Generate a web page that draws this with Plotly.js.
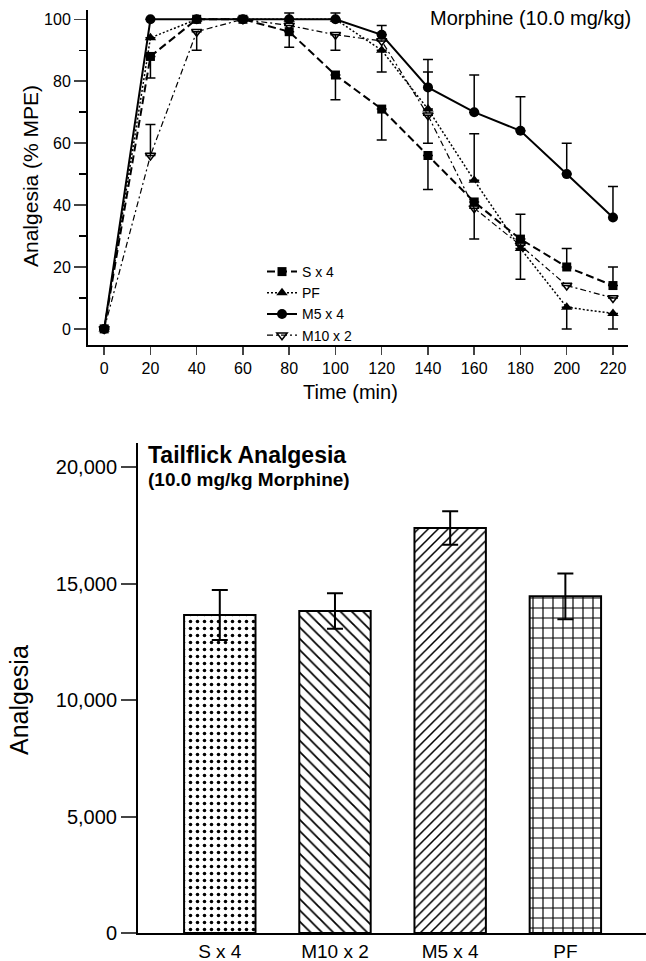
<!DOCTYPE html>
<html>
<head>
<meta charset="utf-8">
<script src="https://cdn.plot.ly/plotly-3.0.1.min.js"></script>
<style>html,body{margin:0;padding:0;background:#fff;}#chart{width:646px;height:961px;}</style>
</head>
<body>
<div id="chart"></div>
<script>
// ---- Top panel data: time course (% MPE) ----
var timeMin = [0, 20, 40, 60, 80, 100, 120, 140, 160, 180, 200, 220];
var sx4 = [0, 88, 100, 100, 96, 82, 71, 56, 41, 29, 20, 14];
var sx4ErrPlus = [null, null, null, null, null, null, null, null, null, 8, 6, 6];
var sx4ErrMinus = [null, 7, null, null, 5, 8, 10, 11, null, null, null, null];
var pf = [0, 94, 100, 100, 100, 100, 90, 71, 48, 26, 7, 5];
var pfErrPlus = [null, null, null, null, 2, 2, null, 12, 15, null, null, null];
var pfErrMinus = [null, null, null, null, null, null, 7, null, null, 10, 7, 5];
var m5x4 = [0, 100, 100, 100, 100, 100, 95, 78, 70, 64, 50, 36];
var m5x4ErrPlus = [null, null, null, null, null, null, 3, 9, 12, 11, 10, 10];
var m5x4ErrMinus = [null, null, null, null, null, null, 0, 0, 0, 0, 0, 0];
var m10x2 = [0, 56, 96, 100, 98, 95, 93, 69, 39, 27, 14, 10];
var m10x2ErrPlus = [null, 10, null, null, null, null, null, null, null, null, null, null];
var m10x2ErrMinus = [null, 0, 6, null, null, 5, null, 9, 10, null, null, null];
var seriesNames = ['S x 4', 'PF', 'M5 x 4', 'M10 x 2'];
var topXTicks = [0, 20, 40, 60, 80, 100, 120, 140, 160, 180, 200, 220];

// ---- Bottom panel data: tailflick analgesia ----
var groups = ['S x 4', 'M10 x 2', 'M5 x 4', 'PF'];
var analgesia = [13650, 13820, 17380, 14450];
var analgesiaErr = [1070, 760, 720, 980];
var bottomYTicks = [0, 5000, 10000, 15000, 20000];

var FONT = 'Liberation Sans, Arial, Helvetica, sans-serif';
var W = 646, H = 961;
function px(x) { return x / W; }
function py(y) { return 1 - y / H; }

function errY(plus, minus) {
  return {type: 'data', symmetric: false, array: plus, arrayminus: minus,
          color: '#000', thickness: 1.5, width: 5};
}

var traces = [
  {x: timeMin, y: sx4, name: seriesNames[0], type: 'scatter', mode: 'lines+markers',
   line: {color: '#000', width: 2, dash: '8px,4px'},
   marker: {symbol: 'square', size: 9, color: '#000'},
   error_y: errY(sx4ErrPlus, sx4ErrMinus), xaxis: 'x', yaxis: 'y'},
  {x: timeMin, y: pf, name: seriesNames[1], type: 'scatter', mode: 'lines+markers',
   line: {color: '#000', width: 1.5, dash: '2px,2px'},
   marker: {symbol: 'triangle-up', size: 10, color: '#000'},
   error_y: errY(pfErrPlus, pfErrMinus), xaxis: 'x', yaxis: 'y'},
  {x: timeMin, y: m5x4, name: seriesNames[2], type: 'scatter', mode: 'lines+markers',
   line: {color: '#000', width: 2},
   marker: {symbol: 'circle', size: 10, color: '#000'},
   error_y: errY(m5x4ErrPlus, m5x4ErrMinus), xaxis: 'x', yaxis: 'y'},
  {x: timeMin, y: m10x2, name: seriesNames[3], type: 'scatter', mode: 'lines+markers',
   line: {color: '#000', width: 1.2, dash: '6px,3px,2px,3px'},
   marker: {symbol: 'triangle-down-open', size: 9, color: '#000', line: {width: 1.5, color: '#000'}},
   error_y: errY(m10x2ErrPlus, m10x2ErrMinus), xaxis: 'x', yaxis: 'y'},
  {x: groups, y: analgesia, type: 'bar', showlegend: false, width: 0.62,
   marker: {color: '#fff', line: {color: '#000', width: 2},
            pattern: {shape: ['.', '\\', '/', '+'], size: [7, 8, 7, 10],
                      solidity: [0.2, 0.22, 0.22, 0.22], fgcolor: '#000', bgcolor: '#fff', fillmode: 'replace'}},
   error_y: {type: 'data', array: analgesiaErr, color: '#000', thickness: 2, width: 8},
   xaxis: 'x2', yaxis: 'y2'}
];

var layout = {
  width: W, height: H,
  margin: {l: 0, r: 0, t: 0, b: 0},
  paper_bgcolor: '#fff', plot_bgcolor: 'rgba(0,0,0,0)',
  font: {family: FONT, color: '#000', size: 16},
  showlegend: true,
  legend: {x: px(262), y: py(256), xanchor: 'left', yanchor: 'top',
           font: {family: FONT, size: 14, color: '#000'}, itemwidth: 30,
           bgcolor: 'rgba(0,0,0,0)', tracegroupgap: 0},
  xaxis: {domain: [px(88), px(628)], anchor: 'y', range: [-7, 226.5],
          tickmode: 'array', tickvals: topXTicks, ticks: 'outside', ticklen: 8, tickwidth: 1.5,
          showline: true, linewidth: 2, linecolor: '#000', showgrid: false, zeroline: false,
          tickfont: {family: FONT, size: 16}},
  yaxis: {domain: [py(345), py(10)], anchor: 'x', range: [-5.2, 103],
          tickmode: 'linear', tick0: 0, dtick: 20, ticks: 'outside', ticklen: 12, tickwidth: 1.5,
          minor: {dtick: 10, tick0: 0, ticks: 'outside', ticklen: 7, tickwidth: 1.5, tickcolor: '#000'},
          showline: true, linewidth: 2, linecolor: '#000', showgrid: false, zeroline: false,
          tickfont: {family: FONT, size: 16}},
  xaxis2: {domain: [px(138), 1], anchor: 'y2', range: [-0.71, 3.7], type: 'category',
           ticks: '', showline: true, linewidth: 2, linecolor: '#000', showgrid: false, zeroline: false,
           tickfont: {family: FONT, size: 19}},
  yaxis2: {domain: [py(933), py(443)], anchor: 'x2', range: [0, 21030],
           tickmode: 'array', tickvals: bottomYTicks, tickformat: ',', ticks: 'outside', ticklen: 15, tickwidth: 2,
           showline: true, linewidth: 2, linecolor: '#000', showgrid: false, zeroline: false,
           tickfont: {family: FONT, size: 20}},
  annotations: [
    {text: 'Morphine (10.0 mg/kg)', xref: 'paper', yref: 'paper', x: px(633), y: py(18),
     xanchor: 'right', yanchor: 'middle', showarrow: false, font: {family: FONT, size: 20}},
    {text: 'Time (min)', xref: 'paper', yref: 'paper', x: px(350), y: py(392),
     xanchor: 'center', yanchor: 'middle', showarrow: false, font: {family: FONT, size: 20}},
    {text: 'Analgesia (% MPE)', xref: 'paper', yref: 'paper', x: px(30), y: py(176),
     xanchor: 'center', yanchor: 'middle', textangle: -90, showarrow: false, font: {family: FONT, size: 21}},
    {text: '<b>Tailflick Analgesia</b>', xref: 'paper', yref: 'paper', x: px(146), y: py(455),
     xanchor: 'left', yanchor: 'middle', showarrow: false, font: {family: FONT, size: 23}},
    {text: '<b>(10.0 mg/kg Morphine)</b>', xref: 'paper', yref: 'paper', x: px(146), y: py(480),
     xanchor: 'left', yanchor: 'middle', showarrow: false, font: {family: FONT, size: 19}},
    {text: 'Analgesia', xref: 'paper', yref: 'paper', x: px(19), y: py(700),
     xanchor: 'center', yanchor: 'middle', textangle: -90, showarrow: false, font: {family: FONT, size: 25}}
  ]
};

Plotly.newPlot('chart', traces, layout, {displayModeBar: false, staticPlot: true});
</script>
</body>
</html>
